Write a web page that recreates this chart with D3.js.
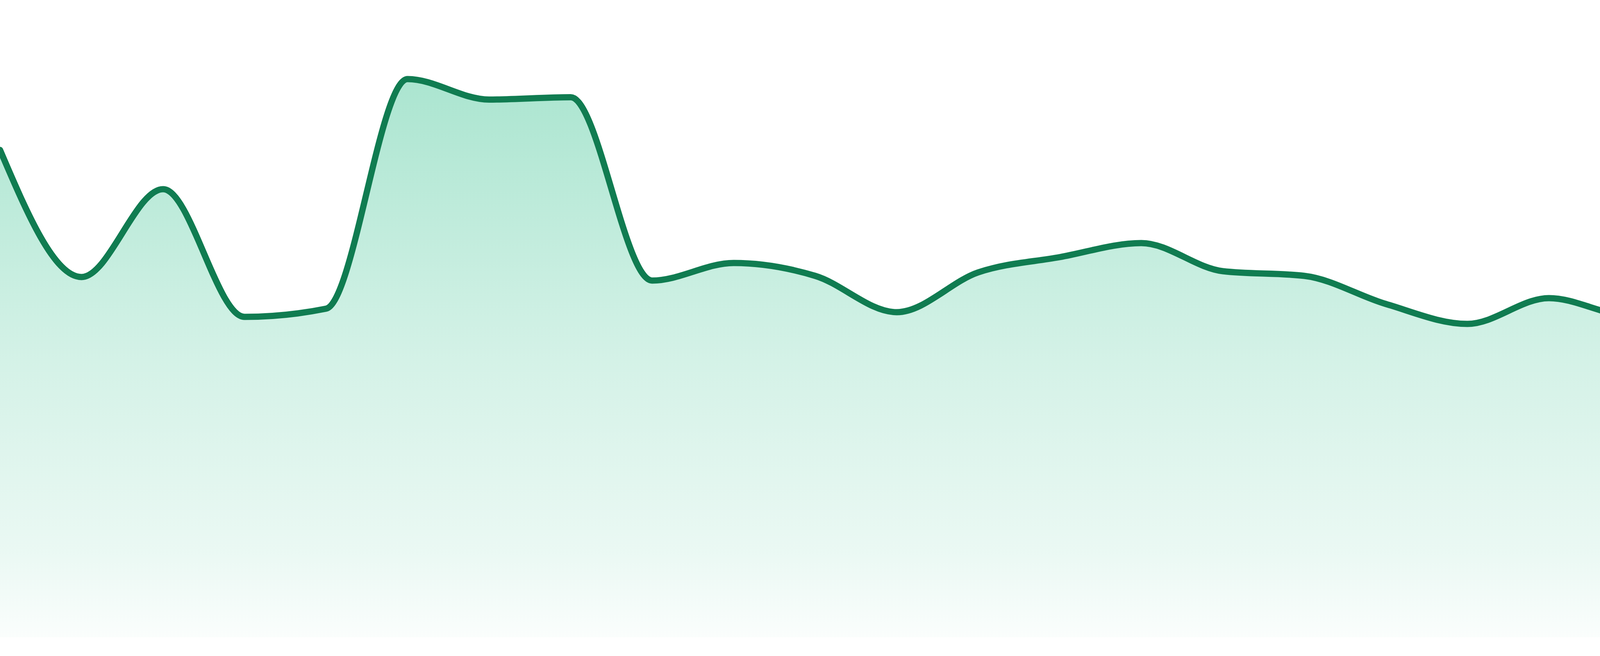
<!DOCTYPE html>
<html>
<head>
<meta charset="utf-8">
<script src="https://cdn.jsdelivr.net/npm/d3@7"></script>
<style>
  html, body { margin: 0; padding: 0; background: #ffffff; }
  svg { display: block; }
</style>
</head>
<body>
<svg id="chart" width="4800" height="1680"></svg>
<script>
// ---- data ----
const categories = ["P1","P2","P3","P4","P5","P6","P7","P8","P9","P10","P11","P12",
                    "P13","P14","P15","P16","P17","P18","P19","P20","P21","P22","P23","P24"];
const values = [83.2, 61.5, 76.5, 54.7, 56.1, 95.3, 91.8, 92.2, 60.9, 63.9, 61.7, 55.5,
                62.3, 64.9, 67.3, 62.5, 61.7, 56.9, 53.5, 57.9, 54.9, 58.5, 53.9, 49.3];
const yDomain = [0, 100];

// ---- layout ----
const W = 4800, H = 1680;
const margin = { top: 132, right: 0, bottom: 48, left: 0 };

const svg = d3.select("#chart");

const x = d3.scalePoint().domain(categories).range([margin.left, W - margin.right]);
const y = d3.scaleLinear().domain(yDomain).range([H - margin.bottom, margin.top]);

const data = categories.map((c, i) => ({ c, v: values[i] }));

const defs = svg.append("defs");
const grad = defs.append("linearGradient")
  .attr("id", "areaGrad")
  .attr("gradientUnits", "userSpaceOnUse")
  .attr("x1", 0).attr("x2", 0)
  .attr("y1", y(d3.max(values))).attr("y2", y(0));
const stops = [[0, 0.37], [0.5, 0.19], [0.85, 0.09], [1, 0.02]];
grad.selectAll("stop").data(stops).join("stop")
  .attr("offset", d => d[0])
  .attr("stop-color", "#1cb980")
  .attr("stop-opacity", d => d[1]);

const area = d3.area()
  .x(d => x(d.c))
  .y0(y(0))
  .y1(d => y(d.v))
  .curve(d3.curveMonotoneX);

const line = d3.line()
  .x(d => x(d.c))
  .y(d => y(d.v))
  .curve(d3.curveMonotoneX);

svg.append("path")
  .datum(data)
  .attr("d", area)
  .attr("fill", "url(#areaGrad)");

svg.append("path")
  .datum(data)
  .attr("d", line)
  .attr("fill", "none")
  .attr("stroke", "#107c51")
  .attr("stroke-width", 16)
  .attr("stroke-linejoin", "round")
  .attr("stroke-linecap", "round");
</script>
</body>
</html>
